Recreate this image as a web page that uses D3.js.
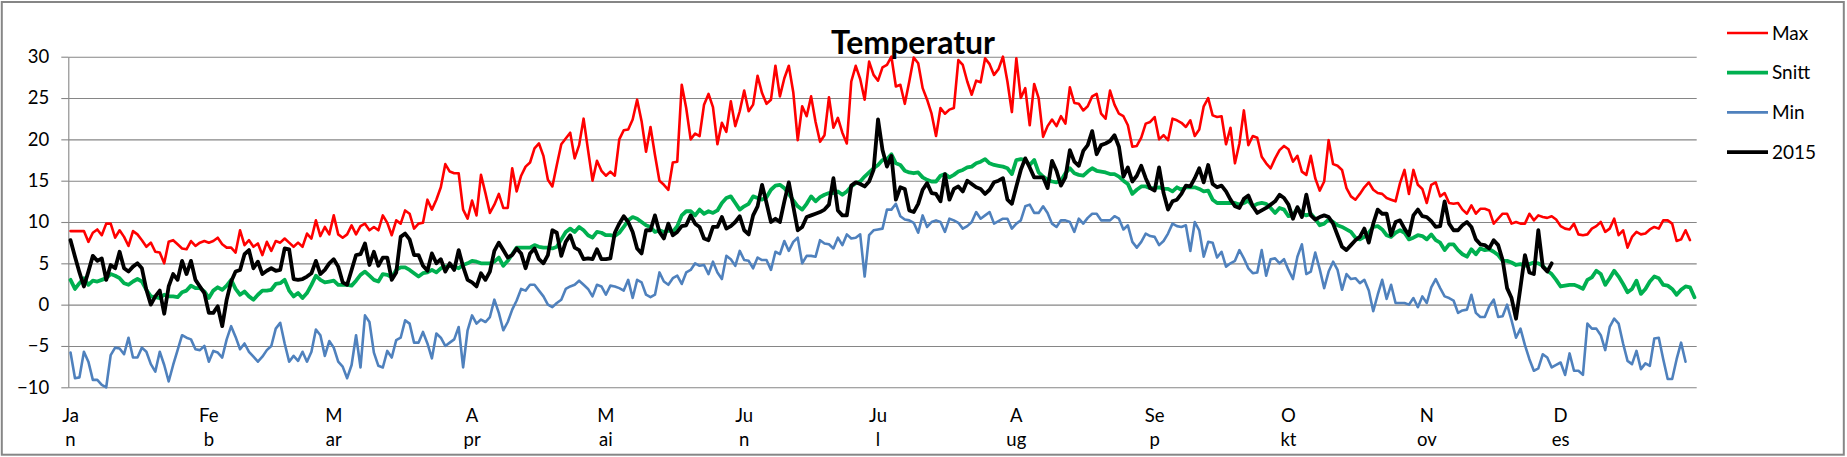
<!DOCTYPE html>
<html>
<head>
<meta charset="utf-8">
<title>Temperatur</title>
<script src="https://cdn.jsdelivr.net/npm/d3@7/dist/d3.min.js"></script>
<style>
  html, body { margin: 0; padding: 0; background: #fff; }
  svg { display: block; font-family: Lato, "Open Sans", sans-serif; }
</style>
</head>
<body>
<div id="chart"></div>
<script>
// daily values, one per day from 1 Jan
var maxTemp = [
  8.9, 8.9, 8.9, 8.9, 7.6, 8.7, 9.1, 8.4, 9.8, 9.8,
  8.1, 9.0, 8.2, 7.1, 8.9, 8.5, 7.8, 7.0, 7.5, 6.4,
  6.3, 5.0, 7.6, 7.8, 7.3, 6.8, 6.7, 7.7, 7.1, 7.5,
  7.7, 7.5, 7.7, 8.1, 7.3, 6.9, 6.9, 6.3, 9.0, 7.2,
  7.8, 7.0, 7.4, 6.0, 7.6, 6.5, 7.7, 7.5, 8.0, 7.5,
  7.0, 7.5, 7.0, 8.6, 8.0, 10.2, 8.3, 9.4, 8.5, 10.8,
  8.5, 8.1, 8.5, 9.6, 8.5, 9.5, 9.8, 9.0, 9.4, 9.0,
  10.8, 9.9, 8.4, 10.2, 9.8, 11.4, 11.0, 9.2, 9.8, 9.9,
  12.7, 11.5, 12.7, 14.2, 17.0, 16.1, 15.9, 15.9, 11.5, 10.4,
  12.6, 10.8, 15.7, 13.5, 11.1, 12.1, 13.4, 11.7, 11.7, 16.5,
  13.7, 15.6, 16.7, 17.2, 18.9, 19.5, 18.0, 15.1, 14.3, 16.9,
  19.4, 20.1, 20.8, 17.7, 19.3, 22.5, 18.7, 15.0, 17.4, 16.2,
  15.6, 16.1, 15.6, 20.0, 21.1, 21.2, 22.4, 24.8, 22.2, 18.5,
  21.5, 18.1, 15.0, 14.5, 13.9, 17.2, 17.3, 26.6, 23.8, 20.0,
  20.7, 20.4, 24.2, 25.5, 23.9, 19.4, 22.0, 20.9, 24.6, 21.6,
  23.4, 25.9, 23.4, 24.2, 27.7, 25.6, 24.3, 24.8, 28.9, 25.2,
  27.4, 28.9, 25.7, 19.9, 24.0, 22.8, 25.2, 22.1, 19.7, 20.5,
  25.1, 21.4, 22.6, 20.8, 19.5, 27.0, 28.9, 27.3, 24.8, 29.4,
  27.8, 27.1, 28.7, 29.0, 30.0, 26.4, 26.6, 24.3, 27.0, 29.9,
  29.2, 26.2, 24.8, 23.1, 20.4, 23.8, 23.1, 23.6, 23.8, 29.6,
  29.0, 27.0, 25.4, 27.1, 26.9, 29.8, 29.1, 27.8, 28.5, 30.0,
  27.0, 23.3, 29.8, 25.0, 26.2, 21.7, 26.7, 25.0, 20.3, 21.6,
  22.4, 21.6, 22.8, 21.9, 26.3, 24.4, 24.3, 23.5, 24.0, 25.2,
  25.5, 23.1, 22.5, 25.9, 24.2, 23.1, 22.8, 21.7, 19.1, 19.2,
  20.2, 21.9, 22.1, 22.7, 20.0, 20.5, 19.9, 22.5, 22.3, 22.0,
  21.5, 22.3, 20.4, 21.2, 24.0, 25.0, 22.9, 22.7, 22.8, 19.4,
  21.4, 17.1, 19.5, 23.5, 19.3, 20.4, 20.2, 17.9, 17.1, 16.5,
  17.7, 18.7, 19.2, 18.8, 17.3, 18.0, 16.1, 15.7, 18.0, 15.3,
  13.8, 14.9, 19.9, 17.0, 16.8, 16.3, 14.1, 13.1, 12.7, 13.4,
  14.2, 14.8, 13.9, 13.5, 13.4, 12.9, 12.7, 12.5, 14.7, 16.3,
  13.4, 16.3, 14.5, 14.0, 12.3, 14.5, 14.8, 13.1, 13.5, 12.3,
  12.2, 12.3, 11.5, 11.0, 12.0, 11.0, 11.6, 11.6, 11.4, 9.8,
  10.4, 11.0, 11.0, 9.8, 10.0, 9.8, 9.8, 11.0, 10.2, 10.8,
  10.6, 10.5, 10.7, 10.3, 9.5, 9.2, 9.1, 9.8, 8.5, 8.4,
  8.5, 9.2, 9.5, 10.0, 8.8, 9.2, 10.4, 8.4, 9.0, 6.9,
  8.2, 8.8, 8.5, 8.6, 9.1, 9.4, 9.2, 10.2, 10.2, 9.8,
  7.7, 7.9, 9.0, 7.8
];

var meanTemp = [
  3.0, 1.9, 2.6, 3.2, 2.4, 2.9, 2.8, 3.0, 3.2, 3.7,
  3.5, 3.2, 2.6, 2.4, 2.8, 3.1, 2.8, 1.8, 1.0, 0.9,
  0.8, 1.2, 1.0, 1.0, 0.9, 1.5, 1.7, 2.3, 2.0, 2.0,
  1.6, 0.8, 1.7, 2.1, 1.8, 2.3, 3.0, 1.9, 1.2, 1.6,
  1.0, 0.6, 1.2, 1.7, 1.7, 1.8, 2.5, 2.6, 3.0, 1.7,
  1.0, 1.4, 0.8, 1.4, 2.4, 3.5, 3.0, 2.7, 2.8, 2.9,
  2.4, 2.4, 2.4, 2.3, 2.9, 3.6, 4.0, 3.5, 3.0, 2.8,
  3.7, 3.6, 3.3, 4.2, 4.5, 4.5, 4.2, 3.8, 3.4, 3.8,
  3.9, 4.2, 3.9, 4.4, 4.6, 4.7, 4.6, 4.4, 4.8, 5.0,
  5.3, 5.2, 5.0, 5.0, 5.0, 5.2, 5.7, 4.7, 5.3, 6.1,
  6.9, 6.9, 6.9, 6.9, 7.2, 7.0, 6.9, 6.9, 6.8, 7.0,
  7.9, 8.8, 9.2, 8.8, 9.4, 9.0, 8.4, 8.1, 8.8, 8.7,
  8.4, 8.4, 8.3, 8.7, 9.4, 10.2, 10.6, 10.4, 10.0, 9.6,
  9.4, 8.8, 9.0, 8.8, 9.0, 8.8, 9.5, 10.8, 11.3, 11.3,
  10.8, 11.5, 11.0, 11.3, 11.1, 11.4, 12.3, 12.9, 13.1, 12.3,
  11.5, 11.9, 12.2, 13.1, 12.9, 12.7, 13.0, 13.9, 14.4, 14.5,
  14.1, 13.4, 12.6, 11.9, 11.5, 12.2, 13.1, 12.5, 13.0, 13.3,
  13.5, 13.5, 13.7, 13.3, 13.7, 14.3, 14.7, 14.9, 15.5, 16.0,
  16.5, 16.9, 17.5, 17.6, 18.2, 17.1, 16.9, 16.2, 16.0, 15.9,
  16.0, 15.4, 15.1, 14.9, 14.9, 15.6, 15.8, 15.4, 15.7, 16.1,
  16.3, 16.6, 16.7, 17.1, 17.3, 17.6, 17.1, 16.9, 16.8, 16.7,
  16.5, 15.8, 17.5, 17.6, 17.5, 16.9, 17.5, 16.0, 15.5, 15.1,
  14.9, 14.8, 15.0, 15.9, 16.5, 15.9, 15.7, 15.6, 16.1, 16.5,
  16.2, 16.1, 16.0, 15.8, 15.8, 15.5, 15.0, 14.6, 13.4, 13.9,
  14.3, 14.3, 14.1, 14.1, 14.2, 14.0, 14.0, 13.7, 14.2, 13.9,
  14.2, 14.2, 14.2, 14.0, 13.7, 13.8, 12.7, 12.3, 12.3, 12.3,
  12.3, 12.3, 12.1, 12.3, 12.6, 11.9, 12.2, 12.3, 12.2, 11.7,
  11.1, 11.7, 11.5, 10.7, 10.8, 11.7, 11.0, 10.8, 11.0, 10.4,
  9.6, 9.8, 10.3, 10.0, 9.6, 9.4, 9.1, 8.8, 8.1, 7.9,
  8.2, 8.7, 9.4, 9.5, 9.1, 8.4, 8.2, 8.7, 9.0, 8.7,
  7.9, 8.1, 8.4, 8.3, 7.9, 8.5, 7.8, 7.5, 6.6, 7.3,
  7.3, 6.6, 6.1, 5.8, 6.7, 6.1, 6.8, 6.6, 6.7, 6.4,
  6.0, 5.3, 5.3, 5.1, 4.8, 4.9, 4.7, 4.9, 5.1, 5.0,
  4.7, 4.1, 3.7, 3.0, 2.2, 2.3, 2.4, 2.4, 2.2, 1.9,
  3.0, 3.3, 4.1, 3.7, 2.4, 3.2, 4.1, 3.4, 2.5, 1.5,
  1.9, 2.9, 1.3, 1.9, 2.8, 3.4, 3.2, 2.4, 2.3, 1.9,
  1.2, 1.8, 2.2, 2.1, 0.9
];

var minTemp = [
  -5.8, -8.9, -8.8, -5.7, -6.9, -9.1, -9.1, -9.7, -10.0, -6.1,
  -5.2, -5.3, -6.0, -4.0, -6.4, -6.4, -5.2, -5.7, -7.2, -8.1,
  -5.7, -7.3, -9.3, -7.3, -5.5, -3.7, -4.0, -4.2, -5.4, -5.5,
  -5.0, -6.9, -5.6, -5.8, -6.4, -4.2, -2.6, -3.9, -5.4, -4.7,
  -5.7, -6.3, -6.9, -6.3, -5.5, -5.0, -2.9, -2.2, -4.7, -6.9,
  -6.2, -6.8, -5.7, -6.9, -5.7, -3.0, -3.7, -6.2, -4.4, -5.2,
  -6.9, -7.5, -8.9, -7.3, -3.7, -7.6, -1.3, -2.1, -5.8, -7.4,
  -7.6, -5.6, -6.4, -4.3, -4.0, -1.9, -2.3, -4.6, -4.6, -3.3,
  -4.7, -6.5, -3.5, -4.0, -5.0, -4.6, -4.2, -2.7, -7.6, -3.1,
  -1.3, -2.3, -1.8, -2.1, -1.5, 0.6, -1.0, -3.1, -2.1, -0.6,
  0.5, 1.9, 1.7, 2.4, 2.4, 1.7, 1.0, 0.0, -0.3, 0.2,
  0.6, 1.9, 2.2, 2.4, 2.9, 2.4, 1.9, 1.0, 2.4, 2.2,
  1.2, 2.3, 2.2, 2.0, 1.7, 3.0, 0.8, 3.0, 2.7, 1.2,
  0.9, 1.2, 3.9, 2.8, 2.4, 3.2, 3.5, 2.5, 3.9, 4.2,
  5.0, 4.7, 4.8, 3.7, 5.2, 3.9, 3.1, 5.9, 5.5, 4.7,
  6.5, 5.4, 5.3, 4.4, 5.7, 5.4, 5.4, 4.2, 6.4, 6.1,
  7.7, 6.5, 7.6, 8.1, 5.0, 5.9, 5.9, 5.8, 7.8, 7.4,
  7.3, 6.8, 8.1, 7.2, 8.5, 8.0, 8.1, 8.5, 3.4, 8.4,
  9.0, 9.1, 9.2, 11.5, 11.5, 12.2, 10.7, 10.3, 10.2, 9.9,
  8.7, 10.8, 9.4, 10.0, 10.2, 10.0, 8.8, 10.4, 10.2, 9.9,
  9.2, 9.5, 10.0, 11.2, 10.4, 10.8, 11.2, 9.8, 10.1, 10.4,
  10.4, 9.2, 9.8, 10.2, 11.9, 12.1, 11.1, 11.1, 11.9, 11.1,
  9.8, 9.4, 10.2, 10.2, 10.0, 8.8, 10.4, 9.8, 10.5, 11.0,
  11.0, 10.2, 10.2, 10.2, 10.7, 10.4, 9.1, 9.6, 7.6, 6.9,
  7.6, 8.6, 8.3, 8.2, 7.2, 7.7, 8.6, 9.8, 9.5, 9.4,
  9.6, 6.5, 10.0, 9.0, 5.8, 7.6, 7.5, 5.7, 6.4, 4.6,
  5.0, 5.3, 6.6, 5.6, 4.4, 3.8, 3.9, 6.6, 3.5, 5.5,
  5.6, 5.0, 5.5, 4.2, 3.1, 5.8, 7.3, 3.7, 4.0, 6.3,
  4.3, 2.0, 4.0, 5.2, 4.2, 1.8, 3.7, 3.1, 3.2, 2.6,
  3.0, 1.7, -0.8, 1.2, 3.0, 0.7, 2.4, 0.2, 0.2, 0.2,
  0.0, 0.8, -0.3, 1.0, 0.2, 2.1, 3.1, 2.0, 1.0, 0.8,
  0.5, -1.0, -0.7, -0.6, 1.2, -1.0, -1.5, -1.5, -0.2, 0.6,
  -1.5, -1.4, 0.0, -1.9, -4.0, -2.9, -4.9, -6.6, -8.0, -7.7,
  -6.0, -6.4, -7.6, -7.3, -7.0, -8.5, -5.9, -8.0, -8.0, -8.5,
  -2.3, -2.9, -2.9, -3.7, -5.5, -2.7, -1.7, -2.3, -4.7, -6.8,
  -7.2, -5.6, -7.8, -7.1, -7.4, -4.1, -4.0, -6.6, -9.0, -9.0,
  -6.6, -4.6, -6.9
];

var temp2015 = [
  7.8, 5.8, 3.9, 2.2, 4.0, 5.9, 5.3, 5.6, 3.0, 4.8,
  4.4, 6.4, 4.4, 4.0, 4.6, 5.0, 4.4, 1.8, 0.0, 1.0,
  1.7, -1.1, 2.2, 3.7, 3.0, 5.3, 3.7, 5.3, 3.0, 2.2,
  1.4, -1.0, -1.0, -0.2, -2.6, 0.6, 2.8, 4.0, 4.2, 6.1,
  6.6, 4.4, 5.2, 3.7, 4.1, 4.4, 4.1, 4.2, 6.8, 6.7,
  3.1, 3.0, 3.1, 3.4, 3.8, 5.3, 3.7, 4.2, 5.0, 5.5,
  4.6, 2.7, 2.4, 4.2, 6.0, 6.1, 7.4, 4.8, 6.4, 4.7,
  5.7, 5.7, 3.0, 3.9, 8.2, 8.6, 7.9, 6.0, 6.0, 4.7,
  4.1, 6.2, 5.0, 5.5, 4.0, 5.0, 4.2, 6.6, 4.6, 3.0,
  2.7, 2.2, 3.8, 3.0, 4.0, 6.5, 7.5, 6.6, 5.7, 6.0,
  6.8, 6.2, 4.4, 6.2, 6.8, 5.5, 5.0, 6.0, 9.0, 8.7,
  5.9, 7.6, 8.4, 6.9, 6.6, 5.5, 5.6, 5.5, 6.7, 5.5,
  5.5, 5.6, 8.7, 9.8, 10.7, 10.0, 8.8, 6.8, 6.2, 9.0,
  9.0, 10.8, 8.8, 8.0, 9.8, 8.4, 8.8, 9.5, 9.6, 10.8,
  9.8, 9.4, 8.0, 7.8, 9.4, 9.4, 10.6, 9.2, 9.5, 10.0,
  10.7, 9.0, 8.5, 10.8, 11.9, 14.5, 12.3, 10.0, 10.4, 10.0,
  12.5, 14.8, 11.9, 9.0, 9.4, 10.6, 10.8, 11.0, 11.2, 11.5,
  12.1, 15.3, 11.4, 10.8, 10.8, 14.4, 14.8, 14.6, 14.3, 14.9,
  16.3, 22.4, 18.7, 16.7, 18.0, 12.7, 14.2, 14.0, 11.4, 11.2,
  12.2, 13.9, 14.7, 13.5, 13.4, 12.5, 15.8, 12.7, 14.0, 14.3,
  13.7, 15.0, 14.6, 14.2, 14.0, 13.4, 13.9, 14.8, 15.0, 15.3,
  12.7, 12.2, 14.3, 16.3, 17.7, 16.6, 15.4, 15.4, 15.4, 14.1,
  17.4, 16.2, 14.4, 15.4, 18.7, 17.3, 16.8, 18.6, 19.3, 21.0,
  18.2, 19.3, 19.5, 19.8, 20.5, 19.1, 15.5, 16.6, 14.9, 15.6,
  16.8, 15.3, 14.1, 13.8, 16.6, 13.5, 11.5, 12.5, 12.7, 13.4,
  14.4, 14.3, 15.3, 16.5, 14.8, 16.9, 14.6, 14.2, 14.4, 13.7,
  12.7, 11.9, 11.7, 12.8, 13.2, 11.9, 11.1, 11.4, 11.7, 12.1,
  12.5, 13.3, 12.9, 12.1, 10.4, 11.8, 10.6, 13.3, 10.8, 10.3,
  10.6, 10.8, 10.6, 9.8, 8.4, 7.0, 6.6, 7.2, 7.8, 8.2,
  9.2, 7.5, 9.8, 11.5, 11.0, 11.0, 8.4, 10.0, 10.2, 9.2,
  8.4, 10.8, 11.5, 10.7, 10.6, 10.1, 9.4, 9.5, 12.5, 9.8,
  9.0, 9.0, 9.6, 10.0, 9.4, 7.9, 7.3, 7.2, 6.8, 7.8,
  7.2, 5.4, 2.0, 0.8, -1.7, 2.1, 6.0, 3.9, 3.7, 9.0,
  4.6, 4.0, 5.0
];

var seriesNames = ["Max", "Snitt", "Min", "2015"];
var seriesColors = ["#ff0000", "#00b050", "#4f81bd", "#000000"];
var seriesWidths = [2.6, 3.8, 2.6, 3.8];

// first day of each month and the wrapped label text
var monthStart = [0, 31, 59, 90, 120, 151, 181, 212, 243, 273, 304, 334];
var monthTop = ["Ja", "Fe", "M", "A", "M", "Ju", "Ju", "A", "Se", "O", "N", "D"];
var monthBottom = ["n", "b", "ar", "pr", "ai", "n", "l", "ug", "p", "kt", "ov", "es"];
var yTicks = [-10, -5, 0, 5, 10, 15, 20, 25, 30];

var svgWidth = 1847, svgHeight = 457;
var margin = { top: 56.7, right: 150.3, bottom: 69.7, left: 68.3 };
var width = svgWidth - margin.left - margin.right;
var height = svgHeight - margin.top - margin.bottom;
var gridColor = "#868686";
var labelFont = "18.5px";

var svg = d3.select("#chart").append("svg")
    .attr("width", svgWidth)
    .attr("height", svgHeight);

svg.append("rect")
    .attr("width", svgWidth).attr("height", svgHeight)
    .attr("fill", "#fff");

// outer frame
svg.append("rect")
    .attr("x", 1.8).attr("y", 2)
    .attr("width", 1842).attr("height", 452.7)
    .attr("fill", "none")
    .attr("stroke", gridColor)
    .attr("stroke-width", 2);

var x = d3.scaleBand().domain(d3.range(365)).range([0, width]).paddingInner(0).paddingOuter(0);
var y = d3.scaleLinear().domain([-10, 30]).range([height, 0]);
var xc = function (i) { return x(i) + x.bandwidth() / 2; };

var g = svg.append("g")
    .attr("transform", "translate(" + margin.left + "," + margin.top + ")");

// gridlines
g.append("g")
    .attr("class", "grid")
    .call(d3.axisLeft(y).tickValues(yTicks).tickSize(-width).tickFormat(""))
    .call(function (s) {
        s.select(".domain").remove();
        s.selectAll("line").attr("stroke", gridColor).attr("stroke-width", 1.1);
    });

// y axis with short outer ticks and labels
g.append("g")
    .attr("class", "axis axis--y")
    .call(d3.axisLeft(y).tickValues(yTicks).tickSize(7).tickSizeOuter(0).tickPadding(12))
    .call(function (s) {
        s.select(".domain").attr("stroke", gridColor).attr("stroke-width", 1.1);
        s.selectAll("line").attr("stroke", gridColor).attr("stroke-width", 1.1);
        s.selectAll("text")
            .attr("fill", "#000")
            .style("font-size", labelFont)
            .style("font-family", "Lato, sans-serif");
    });

// month labels, wrapped on two lines
var xAxis = g.append("g")
    .attr("class", "axis axis--x")
    .attr("transform", "translate(0," + height + ")")
    .call(d3.axisBottom(x).tickValues(monthStart).tickSize(0).tickPadding(0).tickFormat(""));
xAxis.select(".domain").remove();
xAxis.selectAll(".tick text")
    .attr("y", 0)
    .attr("dy", null)
    .attr("fill", "#000")
    .style("font-size", labelFont)
    .style("font-family", "Lato, sans-serif")
    .each(function (d, i) {
        var t = d3.select(this);
        t.append("tspan").attr("x", 0).attr("y", 35).text(monthTop[i]);
        t.append("tspan").attr("x", 0).attr("y", 59).text(monthBottom[i]);
    });

// series lines
var allSeries = [maxTemp, meanTemp, minTemp, temp2015];
var line = d3.line()
    .x(function (d, i) { return xc(i); })
    .y(function (d) { return y(d); });

g.selectAll(".series")
    .data(allSeries)
    .enter().append("path")
    .attr("class", "series")
    .attr("d", function (d) { return line(d); })
    .attr("fill", "none")
    .attr("stroke", function (d, i) { return seriesColors[i]; })
    .attr("stroke-width", function (d, i) { return seriesWidths[i]; })
    .attr("stroke-linejoin", "round")
    .attr("stroke-linecap", "round");

// title
svg.append("text")
    .attr("x", 913)
    .attr("y", 54)
    .attr("text-anchor", "middle")
    .style("font-family", "Lato, sans-serif")
    .style("font-weight", "bold")
    .style("font-size", "32px")
    .attr("fill", "#000")
    .text("Temperatur");

// legend
var legend = svg.append("g")
    .attr("transform", "translate(1727,33)");
var item = legend.selectAll(".item")
    .data(seriesNames)
    .enter().append("g")
    .attr("class", "item")
    .attr("transform", function (d, i) { return "translate(0," + (i * 39.7) + ")"; });
item.append("line")
    .attr("x1", 0).attr("x2", 41)
    .attr("y1", 0).attr("y2", 0)
    .attr("stroke", function (d, i) { return seriesColors[i]; })
    .attr("stroke-width", function (d, i) { return seriesWidths[i]; });
item.append("text")
    .attr("x", 45)
    .attr("y", 6.5)
    .style("font-family", "Lato, sans-serif")
    .style("font-size", "19px")
    .attr("fill", "#000")
    .text(function (d) { return d; });
</script>
</body>
</html>
